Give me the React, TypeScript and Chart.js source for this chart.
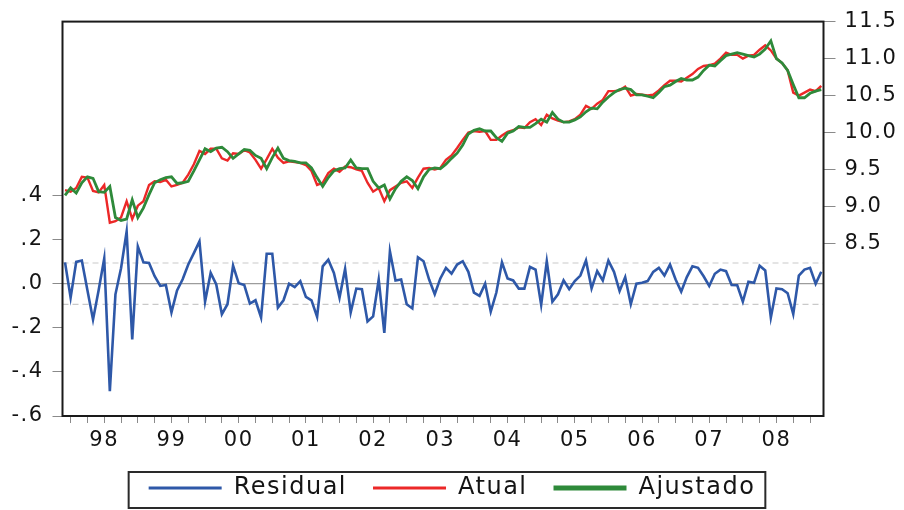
import React, { useEffect, useRef } from "react";
import { Chart, registerables } from "chart.js";

Chart.register(...registerables);

// ---------- data ----------
const startYear = 1997;
const startMonth = 12; // first observation: 1997M12 (monthly)

const seriesNames = ["Residual", "Atual", "Ajustado"];

const residual = [
  0.097, -0.063, 0.099, 0.105, -0.03, -0.163, -0.03, 0.114, -0.487, -0.048,
  0.07, 0.237, -0.253, 0.169, 0.097, 0.094, 0.034, -0.01, -0.006, -0.13,
  -0.03, 0.02, 0.087, 0.139, 0.192, -0.081, 0.049, -0.003, -0.138, -0.093,
  0.082, 0.002, -0.006, -0.09, -0.075, -0.153, 0.136, 0.136, -0.108, -0.075,
  0, -0.015, 0.012, -0.06, -0.075, -0.15, 0.079, 0.109, 0.049, -0.063,
  0.067, -0.13, -0.022, -0.025, -0.171, -0.148, 0.019, -0.223, 0.147, 0.015,
  0.019, -0.093, -0.112, 0.12, 0.102, 0.019, -0.048, 0.024, 0.072, 0.046,
  0.087, 0.102, 0.054, -0.04, -0.055, 0, -0.126, -0.04, 0.097, 0.024,
  0.015, -0.022, -0.022, 0.076, 0.064, -0.096, 0.102, -0.082, -0.048, 0.015,
  -0.025, 0.012, 0.037, 0.105, -0.021, 0.057, 0.015, 0.105, 0.054, -0.033,
  0.03, -0.093, 0, 0.004, 0.012, 0.054, 0.072, 0.037, 0.087, 0.019,
  -0.036, 0.03, 0.079, 0.072, 0.034, -0.01, 0.045, 0.064, 0.057, -0.006,
  -0.007, -0.081, 0.009, 0.004, 0.082, 0.06, -0.153, -0.021, -0.025, -0.043,
  -0.138, 0.037, 0.064, 0.072, 0, 0.054,
];

const actual = [
  9.22, 9.2, 9.25, 9.4, 9.39, 9.21, 9.19, 9.29, 8.78, 8.8,
  8.85, 9.07, 8.83, 9.01, 9.07, 9.29, 9.34, 9.33, 9.36, 9.27,
  9.29, 9.32, 9.43, 9.57, 9.75, 9.71, 9.78, 9.78, 9.65, 9.62,
  9.72, 9.71, 9.76, 9.73, 9.63, 9.51, 9.64, 9.78, 9.66, 9.59,
  9.61, 9.6, 9.59, 9.56, 9.48, 9.29, 9.32, 9.45, 9.51, 9.47,
  9.54, 9.53, 9.5, 9.48, 9.32, 9.2, 9.25, 9.07, 9.22, 9.27,
  9.32, 9.34, 9.25, 9.39, 9.51, 9.52, 9.5, 9.52, 9.63, 9.69,
  9.79, 9.9, 10.0, 10.02, 10.01, 10.02, 9.9, 9.9, 9.96, 10.01,
  10.03, 10.07, 10.06, 10.14, 10.18, 10.1, 10.24, 10.19, 10.16, 10.14,
  10.15, 10.18, 10.24, 10.36, 10.32, 10.39, 10.44, 10.56, 10.56, 10.57,
  10.62, 10.5, 10.52, 10.51, 10.5, 10.51, 10.57, 10.64, 10.7, 10.7,
  10.69, 10.74, 10.79, 10.86, 10.9, 10.91, 10.93, 11.0, 11.08, 11.05,
  11.05, 11.0, 11.04, 11.05, 11.12, 11.18, 11.11, 11.0, 10.94, 10.84,
  10.54, 10.5, 10.54, 10.58, 10.56, 10.63,
];

const fitted = [
  9.15, 9.25, 9.18, 9.32, 9.4, 9.38, 9.2, 9.19, 9.27, 8.85,
  8.81, 8.83, 9.09, 8.85, 8.98, 9.16, 9.32, 9.36, 9.39, 9.4,
  9.31, 9.32, 9.34, 9.48, 9.63, 9.78, 9.74, 9.79, 9.8, 9.74,
  9.65, 9.71, 9.77, 9.76, 9.69, 9.65, 9.51, 9.66, 9.79, 9.65,
  9.62, 9.61, 9.59, 9.59, 9.52, 9.39, 9.27, 9.39, 9.48, 9.51,
  9.52, 9.63, 9.52, 9.51, 9.51, 9.34, 9.25, 9.29, 9.1, 9.24,
  9.34, 9.4, 9.35, 9.24, 9.4, 9.5, 9.52, 9.51, 9.57, 9.65,
  9.72, 9.83, 9.98, 10.03, 10.05, 10.02, 10.02, 9.93, 9.88, 9.99,
  10.02, 10.08, 10.07, 10.07, 10.12, 10.18, 10.14, 10.27, 10.18, 10.14,
  10.14, 10.17, 10.21, 10.28, 10.33, 10.32, 10.41, 10.48, 10.54, 10.58,
  10.6, 10.58, 10.51, 10.51, 10.49, 10.47, 10.54, 10.62, 10.64, 10.69,
  10.73, 10.71, 10.71, 10.75, 10.84, 10.91, 10.9, 10.97, 11.04, 11.06,
  11.08, 11.06, 11.04, 11.02, 11.06, 11.13, 11.24, 11.0, 10.94, 10.84,
  10.65, 10.47, 10.47, 10.53, 10.56, 10.58,
];

const residualTicks = [-0.6, -0.4, -0.2, 0, 0.2, 0.4];
const levelTicks = [8.5, 9.0, 9.5, 10.0, 10.5, 11.0, 11.5];
const seBand = 0.094; // +/- 1 S.E. reference lines

// ---------- styling ----------
const FONT = "'DejaVu Sans', 'Liberation Sans', sans-serif";
const BLUE = "rgb(46, 88, 168)";
const RED = "rgb(236, 40, 40)";
const GREEN = "rgb(46, 138, 58)";
const TEXT = "#141414";
const TICK = "#8a8a8a";
const LETTER_SPACING = "1.5px";
const legendLineWidths = [3, 3, 5];

const W = 904;
const H = 510;
const PLOT_BOTTOM = 416;
const LEGEND_FONT = 24;
const LEGEND_PAD = 26;
const legendHeight = 60;
const xAxisHeight = H - PLOT_BOTTOM - legendHeight;

const n = residual.length;
const xMin = -0.45;
const xMax = n - 1 + 0.4;

function periodOf(i: number) {
  const m0 = startMonth - 1 + i;
  return { year: startYear + Math.floor(m0 / 12), month: (m0 % 12) + 1 };
}

const quarterTicks: number[] = [];
for (let i = 0; i < n; i++) {
  const { month } = periodOf(i);
  if ((month - 1) % 3 === 0) quarterTicks.push(i);
}

const toPoints = (arr: number[]) => arr.map((y, i) => ({ x: i, y }));

const spacingPlugin = {
  id: "spacing",
  beforeLayout(chart: any) {
    chart.ctx.letterSpacing = LETTER_SPACING;
  },
  beforeDraw(chart: any) {
    chart.ctx.letterSpacing = LETTER_SPACING;
  },
};

const framePlugin = {
  id: "frame",
  afterDatasetsDraw(chart: any) {
    const { ctx, chartArea } = chart;
    const { left, top, right, bottom } = chartArea;
    ctx.save();
    ctx.strokeStyle = "#1a1a1a";
    ctx.lineWidth = 2;
    ctx.strokeRect(left, top, right - left, bottom - top);
    ctx.restore();
  },
  afterDraw(chart: any) {
    const lg = chart.legend;
    if (!lg || !lg.legendHitBoxes || !lg.legendHitBoxes.length) return;
    const hb = lg.legendHitBoxes;
    const first = hb[0];
    const last = hb[hb.length - 1];
    const left = first.left - 20;
    const right = last.left + last.width + 10;
    const cy = first.top + first.height / 2;
    const ctx = chart.ctx;
    ctx.save();
    ctx.strokeStyle = "#2a2a2a";
    ctx.lineWidth = 2;
    ctx.strokeRect(left, cy - 16, right - left, 36);
    ctx.restore();
  },
};

export default function App() {
  const canvasRef = useRef<HTMLCanvasElement | null>(null);

  useEffect(() => {
    if (!canvasRef.current) return;
    const chart = new Chart(canvasRef.current, {
      type: "line",
      data: {
        datasets: [
          {
            label: seriesNames[0],
            data: toPoints(residual),
            yAxisID: "yRes",
            borderColor: BLUE,
            backgroundColor: BLUE,
            borderWidth: 2.6,
            pointRadius: 0,
            tension: 0,
            order: 1,
          },
          {
            label: seriesNames[1],
            data: toPoints(actual),
            yAxisID: "yLvl",
            borderColor: RED,
            backgroundColor: RED,
            borderWidth: 2.4,
            pointRadius: 0,
            tension: 0,
            order: 3,
          },
          {
            label: seriesNames[2],
            data: toPoints(fitted),
            yAxisID: "yLvl",
            borderColor: GREEN,
            backgroundColor: GREEN,
            borderWidth: 2.8,
            pointRadius: 0,
            tension: 0,
            order: 2,
          },
          {
            label: "zero",
            data: [{ x: xMin, y: 0 }, { x: xMax, y: 0 }],
            yAxisID: "yRes",
            borderColor: "#9c9c9c",
            borderWidth: 1.2,
            pointRadius: 0,
            order: 9,
          },
          {
            label: "upper",
            data: [{ x: xMin, y: seBand }, { x: xMax, y: seBand }],
            yAxisID: "yRes",
            borderColor: "#c9c9c9",
            borderWidth: 1.2,
            borderDash: [6, 4],
            pointRadius: 0,
            order: 9,
          },
          {
            label: "lower",
            data: [{ x: xMin, y: -seBand }, { x: xMax, y: -seBand }],
            yAxisID: "yRes",
            borderColor: "#c9c9c9",
            borderWidth: 1.2,
            borderDash: [6, 4],
            pointRadius: 0,
            order: 9,
          },
        ],
      },
      options: {
        animation: false,
        responsive: true,
        maintainAspectRatio: false,
        events: [],
        layout: { padding: { top: 18, left: 0, right: 0, bottom: 0 } },
        scales: {
          x: {
            type: "linear",
            position: "bottom",
            min: xMin,
            max: xMax,
            afterBuildTicks: (scale: any) => {
              scale.ticks = quarterTicks.map((v) => ({ value: v }));
            },
            afterFit: (scale: any) => {
              scale.height = xAxisHeight;
            },
            ticks: {
              autoSkip: false,
              maxRotation: 0,
              minRotation: 0,
              padding: 5,
              color: TEXT,
              font: { family: FONT, size: 21 },
              callback: (value: any) => {
                const p = periodOf(Math.round(Number(value)));
                return p.month === 7 ? String(p.year % 100).padStart(2, "0") : "";
              },
            },
            grid: {
              display: true,
              drawOnChartArea: false,
              drawTicks: true,
              tickLength: 7,
              color: TICK,
              lineWidth: 1,
            },
            border: { display: false },
          },
          yRes: {
            type: "linear",
            position: "left",
            min: -0.6,
            max: 1.189,
            afterBuildTicks: (scale: any) => {
              scale.ticks = residualTicks.map((v) => ({ value: v }));
            },
            afterFit: (scale: any) => {
              scale.width = 62.5;
            },
            ticks: {
              padding: 9,
              color: TEXT,
              font: { family: FONT, size: 21 },
              callback: (value: any) => Number(value).toFixed(1).replace("0.", "."),
            },
            grid: {
              drawOnChartArea: false,
              drawTicks: true,
              tickLength: 10,
              color: TICK,
              lineWidth: 1,
            },
            border: { display: false },
          },
          yLvl: {
            type: "linear",
            position: "right",
            min: 6.165,
            max: 11.5,
            afterBuildTicks: (scale: any) => {
              scale.ticks = levelTicks.map((v) => ({ value: v }));
            },
            afterFit: (scale: any) => {
              scale.width = 80.5;
            },
            ticks: {
              padding: 9,
              color: TEXT,
              font: { family: FONT, size: 21 },
              callback: (value: any) => Number(value).toFixed(1),
            },
            grid: {
              drawOnChartArea: false,
              drawTicks: true,
              tickLength: 12,
              color: TICK,
              lineWidth: 1,
            },
            border: { display: false },
          },
        },
        plugins: {
          tooltip: { enabled: false },
          title: { display: false },
          legend: {
            display: true,
            position: "bottom",
            maxHeight: legendHeight,
            labels: {
              usePointStyle: true,
              pointStyle: "line",
              pointStyleWidth: 73,
              padding: LEGEND_PAD,
              color: TEXT,
              font: { family: FONT, size: LEGEND_FONT },
              sort: (a: any, b: any) => a.datasetIndex - b.datasetIndex,
              generateLabels: (ch: any) => {
                const items = (Chart.defaults.plugins.legend.labels as any).generateLabels(ch);
                return items
                  .filter((it: any) => it.datasetIndex < 3)
                  .map((it: any) => ({
                    ...it,
                    lineWidth: legendLineWidths[it.datasetIndex],
                    pointStyle: "line",
                  }));
              },
            },
          },
        },
      },
      plugins: [spacingPlugin, framePlugin],
    } as any);
    return () => chart.destroy();
  }, []);

  return (
    <div
      style={{
        position: "fixed",
        left: 0,
        top: 0,
        width: W + "px",
        height: H + "px",
        background: "#ffffff",
      }}
    >
      <canvas ref={canvasRef} />
    </div>
  );
}
